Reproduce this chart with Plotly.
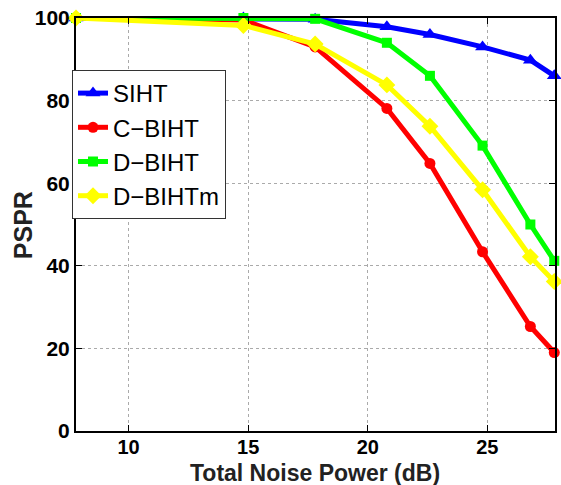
import plotly.graph_objects as go

noise_db = [7.8, 14.8, 17.8, 20.8, 22.6, 24.8, 26.8, 27.8]
siht = [100, 100, 99.7, 97.9, 96.0, 93.0, 89.8, 86.0]
c_biht = [100, 99.5, 93.0, 78.1, 64.8, 43.4, 25.3, 19.0]
d_biht = [100, 100, 99.8, 94.0, 86.0, 69.1, 50.0, 41.2]
d_bihtm = [100, 98.2, 93.7, 83.8, 73.8, 58.4, 42.2, 36.2]

x_title = "Total Noise Power (dB)"
y_title = "PSPR"

series = [
    ("SIHT", siht, "#0000ff", "triangle-up", 13),
    ("C\u2212BIHT", c_biht, "#ff0000", "circle", 11),
    ("D\u2212BIHT", d_biht, "#00ff00", "square", 10),
    ("D\u2212BIHTm", d_bihtm, "#ffff00", "diamond", 13),
]

fig = go.Figure()
for name, ys, color, sym, ms in series:
    fig.add_trace(go.Scatter(
        x=noise_db, y=ys, name=name, mode="lines+markers",
        line=dict(color=color, width=5),
        marker=dict(symbol=sym, size=ms, color=color),
        cliponaxis=False,
    ))

font_family = "Liberation Sans, Arial, sans-serif"
L, R, T, B = 76, 4, 18, 54
pw = 561 - L - R
ph = 485 - T - B
fig.update_layout(
    width=561, height=485,
    margin=dict(l=L, r=R, t=T, b=B),
    paper_bgcolor="white", plot_bgcolor="white",
    font=dict(family=font_family, color="black"),
    showlegend=True,
    legend=dict(
        x=(72 - L) / pw, y=1 - (70 - T) / ph,
        xanchor="left", yanchor="top",
        bgcolor="white", bordercolor="#333", borderwidth=1,
        font=dict(size=24, family=font_family, color="black"),
        tracegroupgap=0, itemwidth=30,
    ),
    annotations=[
        dict(text=x_title, xref="paper", yref="paper",
             x=(316 - L) / pw, y=-(473 - 431) / ph,
             xanchor="center", yanchor="middle", showarrow=False,
             font=dict(size=23, weight="bold", color="#222")),
        dict(text=y_title, xref="paper", yref="paper",
             x=(23 - L) / pw, y=1 - (225 - T) / ph, textangle=-90,
             xanchor="center", yanchor="middle", showarrow=False,
             font=dict(size=25, weight="bold", color="#222")),
    ],
)

fig.update_xaxes(
    range=[7.8, 27.83], tickvals=[10, 15, 20, 25],
    showgrid=True, gridcolor="#aaaaaa", griddash="dot", gridwidth=1,
    showline=True, linecolor="black", linewidth=2, mirror="ticks",
    ticks="inside", ticklen=6, tickcolor="black",
    ticklabelstandoff=-3,
    tickfont=dict(size=20, weight="bold", color="black"),
    zeroline=False,
)
fig.update_yaxes(
    range=[0, 100], tickvals=[0, 20, 40, 60, 80, 100],
    showgrid=True, gridcolor="#aaaaaa", griddash="dot", gridwidth=1,
    showline=True, linecolor="black", linewidth=2, mirror="ticks",
    ticks="inside", ticklen=6, tickcolor="black",
    tickfont=dict(size=21, weight="bold", color="black"),
    zeroline=False,
)

fig.write_html("out.html")
